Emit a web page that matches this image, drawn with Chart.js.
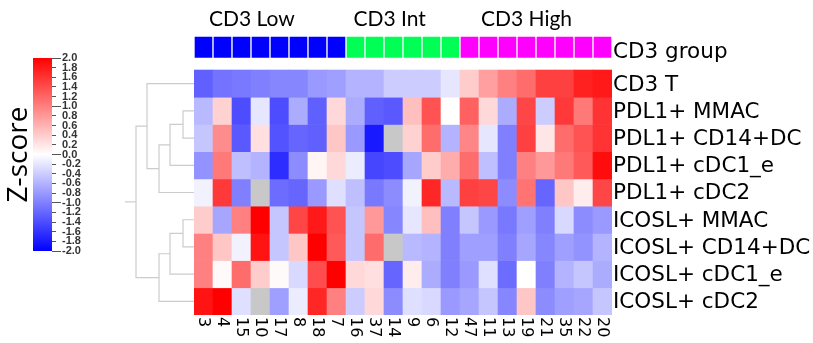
<!DOCTYPE html>
<html><head><meta charset="utf-8">
<script src="https://cdn.jsdelivr.net/npm/chart.js@4"></script>
<style>
html,body{margin:0;padding:0;background:#fff;}
#wrap{position:relative;width:813px;height:343px;overflow:hidden;}
canvas{position:absolute;left:0;top:0;}
</style></head><body>
<div id="wrap">
<canvas id="cbar" width="140" height="343" style="width:140px;height:343px"></canvas>
<canvas id="dendro" width="813" height="343" style="width:813px;height:343px"></canvas>
<canvas id="heat" width="813" height="343" style="width:813px;height:343px"></canvas>
</div>
<script>
// ---------- DATA ----------
const columns = ['3','4','15','10','17','8','18','7','16','37','14','9','6','12','47','11','13','19','21','35','22','20'];
const columnGroup = ['Low','Low','Low','Low','Low','Low','Low','Low','Int','Int','Int','Int','Int','Int','High','High','High','High','High','High','High','High'];
const groupKeys = ['Low','Int','High'];
const groupNames = ['CD3 Low','CD3 Int','CD3 High'];
const groupRowLabel = 'CD3 group';
const rowLabels = ['CD3 T','PDL1+ MMAC','PDL1+ CD14+DC','PDL1+ cDC1_e','PDL1+ cDC2','ICOSL+ MMAC','ICOSL+ CD14+DC','ICOSL+ cDC1_e','ICOSL+ cDC2'];

const cd3T        = [-1.25,-1.1,-1.05,-1.0,-0.95,-0.95,-0.8,-0.75,-0.6,-0.6,-0.4,-0.4,-0.4,-0.2,0.4,0.75,1.0,1.15,1.5,1.5,1.75,1.8];
const pdl1MMAC    = [-0.55,0.35,-1.4,-0.2,-1.4,-0.65,-1.25,0.3,-0.65,-1.25,-1.3,0.5,1.35,0.0,1.25,0.3,-0.65,1.45,-0.4,1.55,1.05,1.6];
const pdl1CD14DC  = [-0.45,0.9,-1.3,0.25,-1.35,-1.2,-1.25,0.45,-0.8,-1.8,null,0.35,1.15,-0.6,0.95,-0.2,-1.0,1.5,0.2,1.15,1.35,1.6];
const pdl1cDC1e   = [-0.85,1.05,-0.5,-0.6,-1.65,-0.9,0.08,0.3,-0.15,-1.45,-1.4,-0.7,0.4,0.65,1.15,-0.5,-1.0,1.0,0.8,1.05,1.3,1.9];
const pdl1cDC2    = [-0.1,1.55,-1.0,null,-1.15,-1.2,-0.8,-0.25,-0.5,-1.05,-0.9,-0.1,1.7,-0.55,1.5,1.45,-0.9,1.1,-1.2,0.45,0.15,1.45];
const icoslMMAC   = [0.4,-0.7,1.0,2.0,-0.45,1.45,1.8,1.35,-0.45,0.8,-0.95,-0.2,0.5,-1.0,-0.45,-0.8,-1.05,-0.75,-1.0,-0.3,-0.9,-0.8];
const icoslCD14DC = [1.0,0.45,-0.1,1.85,-0.45,0.45,2.0,1.3,-0.45,1.15,null,-0.55,-0.6,-1.0,-0.75,-0.75,-1.0,-0.7,-0.95,-0.75,-0.85,-0.6];
const icoslcDC1e  = [1.0,0.04,1.15,0.4,0.04,-0.3,1.4,2.0,0.3,0.25,-1.2,0.15,-0.65,-1.0,-0.8,-0.25,-1.15,0.0,-1.0,-0.6,-0.45,-0.65];
const icoslcDC2   = [1.85,2.0,-0.25,null,-0.75,-0.15,1.7,1.0,-0.4,0.3,-0.9,-0.25,-0.3,-0.8,-0.7,-0.45,-0.95,0.45,-0.9,-0.75,-0.7,-0.45];
const zRows = [cd3T,pdl1MMAC,pdl1CD14DC,pdl1cDC1e,pdl1cDC2,icoslMMAC,icoslCD14DC,icoslcDC1e,icoslcDC2];

const colorbarTicks = [2.0,1.8,1.6,1.4,1.2,1.0,0.8,0.6,0.4,0.2,0.0,-0.2,-0.4,-0.6,-0.8,-1.0,-1.2,-1.4,-1.6,-1.8,-2.0];

// dendrogram merges: [childA, childB, height]; leaves 0..8, new nodes numbered 9, 10, ...
const dendroMerges = [[1,2,1.1],[9,3,2.4],[10,4,3.5],[0,11,4.7],[5,6,1.1],[13,7,2.4],[14,8,3.5],[12,15,5.8]];
const dendroRootStub = 6.9;

// ---------- STYLE ----------
const groupColors = {Low:'#0000ff', Int:'#00ff55', High:'#ff00ff'};
function zColor(v){
  if (v === null || v === undefined) return '#c8c8c8';
  const c = Math.max(-2, Math.min(2, v));
  if (c < 0){ const t = Math.round(255*(1 + c/2)); return `rgb(${t},${t},255)`; }
  const t = Math.round(255*(1 - c/2)); return `rgb(255,${t},${t})`;
}
const Y_MIN = -1.25, Y_MAX = 9;
const GROUP_BAND = [-1.25, -0.45];

// ---------- HEATMAP ----------
const heatDatasets = zRows.map((vals, r) => ({
  label: rowLabels[r],
  data: vals.map(() => [r, r + 1]),
  backgroundColor: vals.map(zColor),
  borderWidth: 0,
  grouped: false,
  barPercentage: 1, categoryPercentage: 1
}));
heatDatasets.push({
  label: groupRowLabel,
  data: columns.map(() => GROUP_BAND),
  backgroundColor: columnGroup.map(g => groupColors[g]),
  borderColor: 'rgba(255,255,255,0.9)',
  borderWidth: 1,
  grouped: false,
  barPercentage: 1, categoryPercentage: 1
});

const colLabelPlugin = {
  id: 'colLabels',
  afterDraw(chart){
    const xs = chart.scales.x, ctx = chart.ctx;
    ctx.save();
    ctx.font = '16px "DejaVu Sans"';
    ctx.fillStyle = '#000';
    ctx.textAlign = 'left';
    ctx.textBaseline = 'middle';
    columns.forEach((c, i) => {
      const x = xs.getPixelForTick(i);
      ctx.save();
      ctx.translate(x, chart.chartArea.bottom + 2);
      ctx.rotate(Math.PI / 2);
      ctx.fillText(c, 0, 0);
      ctx.restore();
    });
    ctx.restore();
  }
};

new Chart(document.getElementById('heat'), {
  type: 'bar',
  data: { labels: columns, datasets: heatDatasets },
  plugins: [colLabelPlugin],
  options: {
    responsive: false, animation: false,
    layout: { padding: { left: 194, right: 0, top: 0, bottom: 0 } },
    plugins: { legend: { display: false }, tooltip: { enabled: false } },
    scales: {
      x: { type: 'category', position: 'bottom', grid: { display: false }, border: { display: false },
           ticks: { display: false }, afterFit: s => { s.height = 28; } },
      x2: { type: 'linear', position: 'top', min: 0, max: 22, offset: false,
            grid: { display: false, drawTicks: false, offset: false }, border: { display: false },
            afterBuildTicks: s => { s.ticks = [3.05, 10.3, 17.5].map(v => ({ value: v })); },
            ticks: { autoSkip: false, maxRotation: 0, padding: 4, color: '#000',
                     font: { family: 'Lato', size: 21 }, callback: (v, i) => groupNames[i] },
            afterFit: s => { s.height = 36; } },
      y: { type: 'linear', position: 'right', reverse: true, min: Y_MIN, max: Y_MAX,
           grid: { display: false, drawTicks: false }, border: { display: false },
           afterBuildTicks: s => { s.ticks = [{ value: (GROUP_BAND[0] + GROUP_BAND[1]) / 2 + 0.2 }].concat(rowLabels.map((_, i) => ({ value: i + 0.55 }))); },
           ticks: { autoSkip: false, padding: 1, color: '#000', font: { family: 'DejaVu Sans', size: 21.5 },
                    callback: (v, i) => i === 0 ? groupRowLabel : rowLabels[i - 1] },
           afterFit: s => { s.width = 201; } }
    }
  }
});

// ---------- DENDROGRAM ----------
const nodes = rowLabels.map((_, i) => ({ y: i + 0.5, h: 0 }));
const dendroDatasets = [];
dendroMerges.forEach(([a, b, h]) => {
  const A = nodes[a], B = nodes[b];
  dendroDatasets.push({
    data: [{ x: A.h, y: A.y }, { x: h, y: A.y }, { x: h, y: B.y }, { x: B.h, y: B.y }],
    showLine: true, borderColor: '#cccccc', borderWidth: 1.2, pointRadius: 0, fill: false, tension: 0
  });
  nodes.push({ y: (A.y + B.y) / 2, h: h });
});
const root = nodes[nodes.length - 1];
dendroDatasets.push({
  data: [{ x: root.h, y: root.y }, { x: dendroRootStub, y: root.y }],
  showLine: true, borderColor: '#cccccc', borderWidth: 1.2, pointRadius: 0, fill: false
});

new Chart(document.getElementById('dendro'), {
  type: 'scatter',
  data: { datasets: dendroDatasets },
  options: {
    responsive: false, animation: false,
    layout: { padding: { left: 120, right: 813 - 194, top: 36, bottom: 28 } },
    plugins: { legend: { display: false }, tooltip: { enabled: false } },
    scales: {
      x: { type: 'linear', reverse: true, min: 0, max: 7.4, display: false },
      y: { type: 'linear', reverse: true, min: Y_MIN, max: Y_MAX, display: false }
    }
  }
});

// ---------- COLOR BAR ----------
new Chart(document.getElementById('cbar'), {
  type: 'bar',
  data: { labels: ['z'], datasets: [{
    data: [[-2, 2]],
    yAxisID: 'y',
    barPercentage: 1, categoryPercentage: 1, borderWidth: 0,
    backgroundColor: (ctx) => {
      const ca = ctx.chart.chartArea;
      if (!ca) return '#fff';
      const g = ctx.chart.ctx.createLinearGradient(0, ca.top, 0, ca.bottom);
      g.addColorStop(0, zColor(2)); g.addColorStop(0.5, zColor(0)); g.addColorStop(1, zColor(-2));
      return g;
    }
  }] },
  options: {
    responsive: false, animation: false,
    layout: { padding: { left: 0, right: 140 - 52 - 70, top: 58, bottom: 343 - 251 } },
    plugins: { legend: { display: false }, tooltip: { enabled: false } },
    scales: {
      x: { display: false },
      yl: { type: 'linear', position: 'left', min: -2, max: 2,
            ticks: { display: false }, grid: { display: false }, border: { display: false },
            title: { display: true, text: 'Z-score', color: '#000', font: { family: 'Open Sans', size: 28 }, padding: { top: 2, bottom: 0 } },
            afterFit: s => { s.width = 33; } },
      y: { type: 'linear', position: 'right', min: -2, max: 2,
           afterBuildTicks: s => { s.ticks = colorbarTicks.map(v => ({ value: v })); },
           grid: { display: true, drawOnChartArea: false, tickLength: 9, tickColor: '#555', tickWidth: 1,
                   tickBorderDash: (c) => (c.tick && Math.abs(c.tick.value - Math.round(c.tick.value)) < 1e-6) ? [] : [4, 40] },
           border: { display: false },
           ticks: { autoSkip: false, padding: 1, color: '#333', font: { family: 'Liberation Sans', size: 11, weight: 'bold' },
                    callback: v => v.toFixed(1) },
           afterFit: s => { s.width = 70; } }
    }
  }
});
</script>
</body></html>
